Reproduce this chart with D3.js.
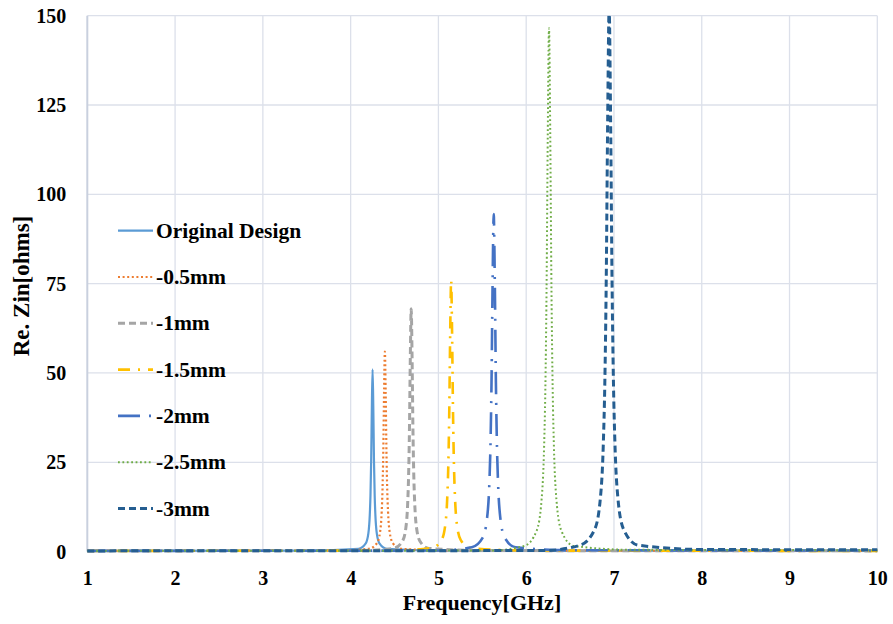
<!DOCTYPE html>
<html>
<head>
<meta charset="utf-8">
<script src="https://cdn.jsdelivr.net/npm/d3@7"></script>
<style>
  html, body { margin: 0; padding: 0; background: #fff; }
  svg text { font-family: "Liberation Serif", "Times New Roman", serif; font-weight: bold; fill: #000; }
</style>
</head>
<body>
<svg id="chart" width="893" height="624"></svg>
<script>
// ---- Data ----
const seriesNames = ["Original Design", "-0.5mm", "-1mm", "-1.5mm", "-2mm", "-2.5mm", "-3mm"];

const freqOriginal = [1, 3.5, 4.09, 4.17, 4.202, 4.218, 4.226, 4.234, 4.242, 4.25, 4.258, 4.266, 4.274, 4.282, 4.298, 4.33, 4.41, 5, 10];
const zinOriginal  = [0.2, 0.3, 0.8, 2.2, 5.1, 10.2, 15.7, 25.5, 40.8, 51, 40.8, 25.5, 15.7, 10.2, 5.1, 2.2, 0.8, 0.3, 0.2];

const freq05 = [1, 3.8, 4.21, 4.30, 4.336, 4.354, 4.363, 4.372, 4.381, 4.39, 4.399, 4.408, 4.417, 4.426, 4.444, 4.48, 4.57, 5.2, 10];
const zin05  = [0.2, 0.3, 0.8, 2.4, 5.6, 11.2, 17.2, 28, 44.8, 56, 44.8, 28, 17.2, 11.2, 5.6, 2.4, 0.8, 0.3, 0.2];

const freq1 = [1, 4.1, 4.49, 4.59, 4.63, 4.65, 4.66, 4.67, 4.68, 4.69, 4.70, 4.71, 4.72, 4.73, 4.75, 4.79, 4.89, 5.5, 10];
const zin1  = [0.2, 0.3, 0.9, 2.9, 6.8, 13.6, 20.9, 34, 54.4, 68, 54.4, 34, 20.9, 13.6, 6.8, 2.9, 0.9, 0.3, 0.2];

const freq15 = [1, 4.5, 4.925, 5.035, 5.079, 5.101, 5.112, 5.123, 5.134, 5.145, 5.156, 5.167, 5.178, 5.189, 5.211, 5.255, 5.365, 6, 10];
const zin15  = [0.2, 0.3, 1, 3.2, 7.6, 15.2, 23.4, 38, 60.8, 76, 60.8, 38, 23.4, 15.2, 7.6, 3.2, 1, 0.3, 0.2];

const freq2 = [1, 5, 5.38, 5.505, 5.555, 5.58, 5.5925, 5.605, 5.6175, 5.63, 5.6425, 5.655, 5.6675, 5.68, 5.705, 5.755, 5.88, 6.5, 10];
const zin2  = [0.2, 0.3, 1.2, 3.9, 9.5, 18.9, 29.1, 47.3, 75.6, 94.5, 75.6, 47.3, 29.1, 18.9, 9.5, 3.9, 1.2, 0.4, 0.3];

const freq25 = [1, 5.6, 5.98, 6.12, 6.176, 6.204, 6.218, 6.232, 6.246, 6.26, 6.274, 6.288, 6.302, 6.316, 6.344, 6.40, 6.54, 7.2, 10];
const zin25  = [0.2, 0.3, 1.6, 5.9, 14.7, 29.3, 45.1, 73.3, 117.2, 146.5, 117.2, 73.3, 45.1, 29.3, 14.7, 5.9, 1.6, 0.5, 0.4];

const freq3 = [1, 6.2, 6.615, 6.78, 6.846, 6.879, 6.8955, 6.912, 6.9285, 6.945, 6.9615, 6.978, 6.9945, 7.011, 7.044, 7.11, 7.275, 8, 10];
const zin3  = [0.2, 0.3, 1.8, 6.2, 15.2, 30.4, 46.8, 76, 121.6, 152, 121.6, 76, 46.8, 30.4, 15.2, 6.2, 1.8, 0.6, 0.5];

const xTicks = [1, 2, 3, 4, 5, 6, 7, 8, 9, 10];
const yTicks = [0, 25, 50, 75, 100, 125, 150];

const xTitle = "Frequency[GHz]";
const yTitle = "Re. Zin[ohms]";

// ---- Styles ----
const styles = [
  { color: "#5B9BD5", dash: null,            width: 2.2 },
  { color: "#ED7D31", dash: "2,2.6",         width: 2.2 },
  { color: "#A5A5A5", dash: "7,4",           width: 3 },
  { color: "#FFC000", dash: "12,8,2,8",      width: 2.6 },
  { color: "#4472C4", dash: "22,9,2,9",      width: 2.6 },
  { color: "#70AD47", dash: "1.8,2.6",       width: 2 },
  { color: "#255E91", dash: "7,4",           width: 3 }
];

const freqs = [freqOriginal, freq05, freq1, freq15, freq2, freq25, freq3];
const zins  = [zinOriginal, zin05, zin1, zin15, zin2, zin25, zin3];

const series = seriesNames.map((name, i) => ({
  name,
  points: freqs[i].map((f, j) => ({ f, z: zins[i][j] })),
  style: styles[i]
}));

// ---- Layout ----
const svg = d3.select("#chart");
const pLeft = 87.3, pRight = 877.3, pTop = 15.7, pBottom = 551.6;

const x = d3.scaleLinear().domain([1, 10]).range([pLeft, pRight]);
const y = d3.scaleLinear().domain([0, 150]).range([pBottom, pTop]);

// Grid
const grid = svg.append("g");
grid.selectAll("line.h").data(yTicks).enter().append("line")
  .attr("x1", pLeft).attr("x2", pRight)
  .attr("y1", d => y(d)).attr("y2", d => y(d))
  .attr("stroke", "#DCE0EA").attr("stroke-width", 1.3);
grid.selectAll("line.v").data(xTicks).enter().append("line")
  .attr("y1", pTop).attr("y2", pBottom)
  .attr("x1", d => x(d)).attr("x2", d => x(d))
  .attr("stroke", d => d === 1 ? "#C9D0DE" : "#DCE0EA").attr("stroke-width", d => d === 1 ? 2 : 1.3);

// Axes (labels only, via d3 axes)
const xAxis = svg.append("g").attr("transform", `translate(0,${pBottom})`)
  .call(d3.axisBottom(x).tickValues(xTicks).tickSize(0).tickPadding(19).tickFormat(d3.format("d")));
xAxis.select(".domain").remove();
xAxis.selectAll("text").style("font-size", "20px").style("font-family", "Liberation Serif, serif").style("font-weight", "bold");

const yAxis = svg.append("g").attr("transform", `translate(${pLeft},0)`)
  .call(d3.axisLeft(y).tickValues(yTicks).tickSize(0).tickPadding(21).tickFormat(d3.format("d")));
yAxis.select(".domain").remove();
yAxis.selectAll("text").style("font-size", "20px").style("font-family", "Liberation Serif, serif").style("font-weight", "bold");

// Clip
svg.append("clipPath").attr("id", "plotclip").append("rect")
  .attr("x", pLeft - 2).attr("y", pTop).attr("width", pRight - pLeft + 4).attr("height", pBottom - pTop + 3);

const line = d3.line().x(d => x(d.f)).y(d => y(d.z)).curve(d3.curveMonotoneX);

const plot = svg.append("g").attr("clip-path", "url(#plotclip)");
plot.selectAll("path.series").data(series).enter().append("path")
  .attr("class", "series")
  .attr("fill", "none")
  .attr("stroke", d => d.style.color)
  .attr("stroke-width", d => d.style.width)
  .attr("stroke-dasharray", d => d.style.dash)
  .attr("stroke-linejoin", "round")
  .attr("d", d => line(d.points));

// Legend
const legendY0 = 230.7, legendStep = 46.3;
const legend = svg.append("g");
const items = legend.selectAll("g").data(series).enter().append("g")
  .attr("transform", (d, i) => `translate(0,${legendY0 + i * legendStep})`);
items.append("line")
  .attr("x1", 118).attr("x2", 153).attr("y1", 0).attr("y2", 0)
  .attr("stroke", d => d.style.color)
  .attr("stroke-width", d => d.style.width)
  .attr("stroke-dasharray", d => d.style.dash);
items.append("text")
  .attr("x", 156).attr("y", 7)
  .style("font-size", "21.5px")
  .text(d => d.name);

// Titles
svg.append("text")
  .attr("x", 482).attr("y", 610)
  .attr("text-anchor", "middle")
  .style("font-size", "22px")
  .text(xTitle);

svg.append("text")
  .attr("transform", `translate(29,${286}) rotate(-90)`)
  .attr("text-anchor", "middle")
  .style("font-size", "23px")
  .text(yTitle);
</script>
</body>
</html>
